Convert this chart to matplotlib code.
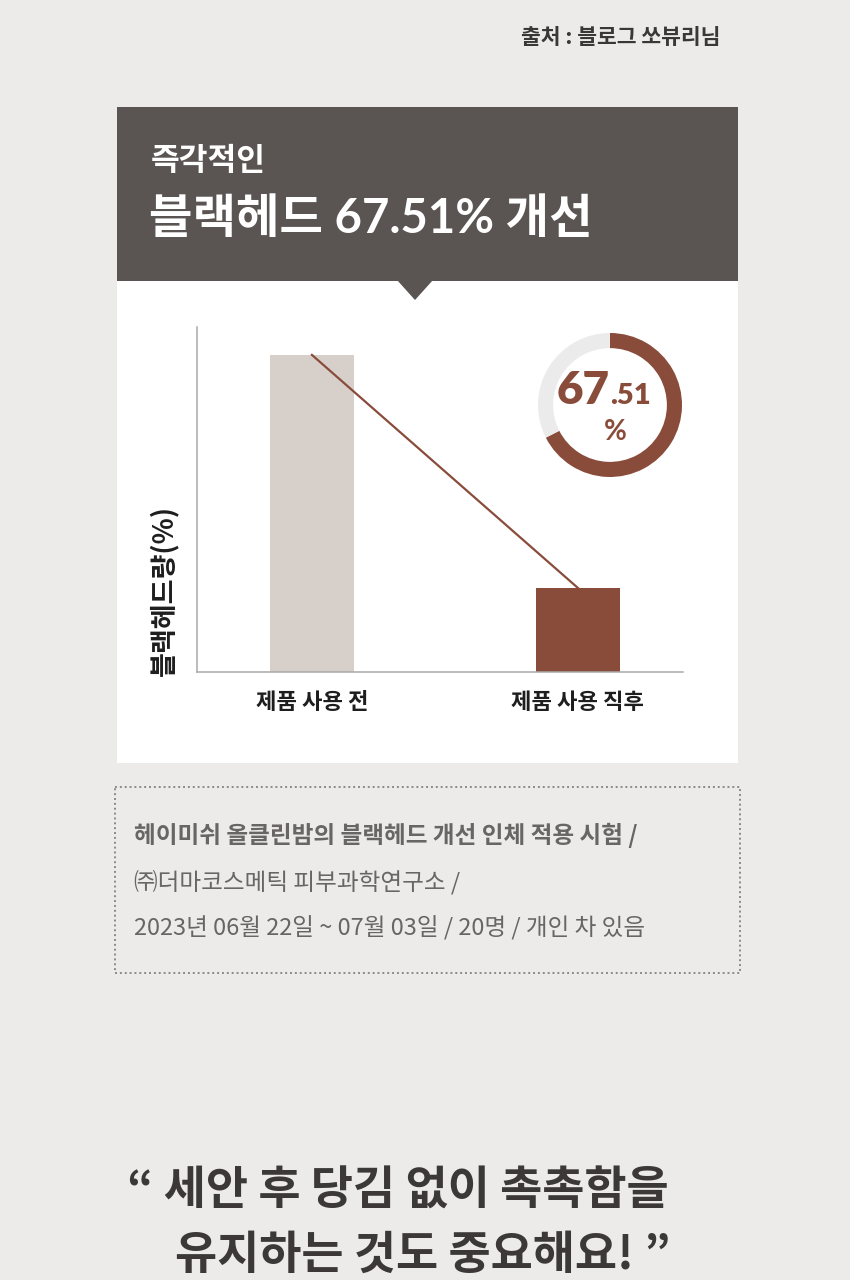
import matplotlib
matplotlib.use("Agg")
import matplotlib.pyplot as plt
from matplotlib.patches import Rectangle, Polygon

plt.rcParams['font.family'] = ['Noto Sans CJK KR', 'DejaVu Sans']

# 데이터
categories = ['제품 사용 전', '제품 사용 직후']
values = [100, 26.5]          # 그림에서 읽은 막대 높이 (상대값)
improvement = 67.51
ring = [improvement, 100 - improvement]

source = '출처 : 블로그 쏘뷰리님'
head_small = '즉각적인'
head_big = '블랙헤드 67.51% 개선'
ylabel = '블랙헤드량(%)'
notes = ['헤이미쉬 올클린밤의 블랙헤드 개선 인체 적용 시험 /',
         '㈜더마코스메틱 피부과학연구소 /',
         '2023년 06월 22일 ~ 07월 03일 / 20명 / 개인 차 있음']
quote = ['“ 세안 후 당김 없이 촉촉함을', '유지하는 것도 중요해요! ”']

BG = '#ecebea'
HEAD = '#5a5552'
BROWN = '#8a4c3a'
LIGHT = '#d7d0ca'
DARK = '#3c3837'
W, H = 850, 1280

fig = plt.figure(figsize=(W / 100, H / 100), dpi=100, facecolor=BG)

# 배경 / 장식 (픽셀 좌표)
bg = fig.add_axes([0, 0, 1, 1], zorder=0)
bg.set_xlim(0, W); bg.set_ylim(H, 0); bg.axis('off')
bg.add_patch(Rectangle((117, 107), 621, 656, facecolor='white', edgecolor='none'))
bg.add_patch(Rectangle((117, 107), 621, 174, facecolor=HEAD, edgecolor='none'))
bg.add_patch(Polygon([(397, 280), (433, 280), (415, 300)], closed=True,
                     facecolor=HEAD, edgecolor='none'))
bg.add_patch(Rectangle((115, 787), 625, 186, facecolor='none', edgecolor='#8c8988',
                       linewidth=1.4, linestyle=(0, (1, 1.5))))

bg.text(720, 38, source, ha='right', va='center', fontsize=15.5, color='#3a3736',
        fontweight='bold')
bg.text(151, 161, head_small, ha='left', va='center', fontsize=22.5, color='white',
        fontweight='bold')
bg.text(149, 219, head_big, ha='left', va='center', fontsize=34, color='white',
        fontweight='bold', family=['Lato', 'Noto Sans CJK KR'])

for i, (txt, y) in enumerate(zip(notes, [835, 882, 928])):
    bg.text(134, y, txt, ha='left', va='center', fontsize=17, color='#686564',
            fontweight='bold' if i == 0 else 'normal')

bg.text(398, 1192, quote[0], ha='center', va='center', fontsize=33, color=DARK,
        fontweight='black')
bg.text(423, 1256, quote[1], ha='center', va='center', fontsize=33, color=DARK,
        fontweight='black')

# 막대 그래프
ax = fig.add_axes([197 / W, (H - 672) / H, (683 - 197) / W, (672 - 327) / H], zorder=2)
ax.patch.set_alpha(0)
x = [0, 1]
ax.bar(x, values, width=0.316, color=[LIGHT, BROWN], zorder=2)
ax.plot(x, values, color=BROWN, linewidth=1.6, zorder=3)
ax.set_xlim(-0.432, 1.395)
ax.set_ylim(0, 108.8)
ax.set_xticks(x)
ax.set_xticklabels(categories, fontsize=16, fontweight='bold', color='#1e1e1e')
ax.tick_params(axis='x', length=0, pad=14)
ax.set_yticks([])
for s in ['top', 'right']:
    ax.spines[s].set_visible(False)
for s in ['left', 'bottom']:
    ax.spines[s].set_color('#a9a9a9')
    ax.spines[s].set_linewidth(1.1)
ax.set_ylabel(ylabel, fontsize=19.5, fontweight='bold', color='#1e1e1e')
ax.yaxis.set_label_coords(-0.039, 0.235)

# 도넛
dax = fig.add_axes([538 / W, (H - 477) / H, 144 / W, 144 / H], zorder=3)
dax.pie(ring, colors=[BROWN, '#ebebeb'], startangle=90, counterclock=False,
        radius=1, wedgeprops=dict(width=0.21, edgecolor='none'))
dax.set_aspect('equal')
dax.set_xlim(-1, 1); dax.set_ylim(-1, 1)
num_font = ['Lato', 'Noto Sans CJK KR']
dax.text(0.0, 0.02, '67', ha='right', va='baseline', fontsize=33, color=BROWN,
         fontweight='heavy', family=num_font)
dax.text(0.0, 0.02, '.51', ha='left', va='baseline', fontsize=21, color=BROWN,
         fontweight='heavy', family=num_font)
dax.text(0.08, -0.38, '%', ha='center', va='center', fontsize=20, color=BROWN,
         fontweight='bold', family=num_font)

fig.savefig('out.png', dpi=100, facecolor=BG)
